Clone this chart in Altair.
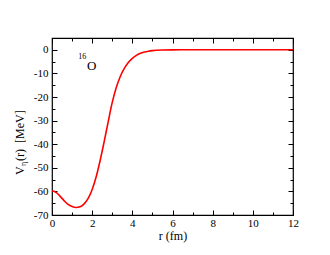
import altair as alt
import pandas as pd

r_vals = [0, 0.2, 0.4, 0.6, 0.8, 1.0, 1.2, 1.4, 1.6, 1.8, 2.0, 2.2, 2.4, 2.6, 2.8, 3.0,
          3.2, 3.4, 3.6, 3.8, 4.0, 4.2, 4.4, 4.6, 4.8, 5.0, 5.5, 6.0, 7.0, 8.0, 9.0,
          10.0, 11.0, 12.0]
v_vals = [-59.7, -60.4, -62.0, -63.9, -65.5, -66.4, -66.8, -66.5, -65.3, -63.0, -59.2,
          -53.8, -46.8, -38.8, -30.4, -22.3, -16.0, -11.3, -7.9, -5.4, -3.6, -2.35, -1.5,
          -0.95, -0.58, -0.35, -0.1, -0.03, 0, 0, 0, 0, 0, 0]

x_major = [0, 2, 4, 6, 8, 10, 12]
x_minor = [1, 3, 5, 7, 9, 11]
y_major = [0, -10, -20, -30, -40, -50, -60, -70]
y_minor = [5, -5, -15, -25, -35, -45, -55, -65]

df = pd.DataFrame({"r": r_vals, "v": v_vals})

FONT = "Liberation Serif"
W, H = 241, 177
MAJ, MIN = 5, 3
LBL = "'' + datum.value"

xs = alt.Scale(domain=[0, 12], nice=False, zero=False)
ys = alt.Scale(domain=[-70, 5], nice=False, zero=False)


def axis_layer(xorient, yorient, xvals, yvals, tsize):
    xa = dict(orient=xorient, values=xvals, tickSize=tsize, offset=-tsize, domain=False,
              grid=False, labels=False, tickColor="black", tickWidth=1, title="")
    ya = dict(orient=yorient, values=yvals, tickSize=tsize, offset=-tsize, domain=False,
              grid=False, labels=False, tickColor="black", tickWidth=1, title="")
    return alt.Chart(df).mark_line(opacity=0).encode(
        x=alt.X("r:Q", scale=xs, axis=alt.Axis(**xa)),
        y=alt.Y("v:Q", scale=ys, axis=alt.Axis(**ya)),
    )


line = alt.Chart(df).mark_line(color="#ff0000", strokeWidth=1.6, interpolate="monotone").encode(
    x=alt.X("r:Q", scale=xs, axis=alt.Axis(orient="bottom", values=x_major, tickSize=MAJ,
                                          offset=-MAJ, domain=False, grid=False,
                                          labelFont=FONT, labelFontSize=11, labelColor="black",
                                          labelPadding=2, labelFlush=False, tickColor="black",
                                          labelExpr=LBL,
                                          title="r (fm)", titleFont=FONT, titleFontSize=12,
                                          titleFontWeight="normal", titleColor="black",
                                          titlePadding=2)),
    y=alt.Y("v:Q", scale=ys, axis=alt.Axis(orient="left", values=y_major, tickSize=MAJ,
                                          offset=-MAJ, domain=False, grid=False,
                                          labelFont=FONT, labelFontSize=11, labelColor="black",
                                          labelPadding=4, tickColor="black", labelExpr=LBL,
                                          title="")),
)

layers = [
    line,
    axis_layer("top", "right", x_major, y_major, MAJ),
    axis_layer("bottom", "left", x_minor, y_minor, MIN),
    axis_layer("top", "right", x_minor, y_minor, MIN),
]

# isotope label
lab_txt = ["16", "O"]
lab_r = [1.5, 1.98]
lab_v = [-3.0, -6.8]
lab_size = [8, 13]
lab_df = pd.DataFrame({"t": lab_txt, "r": lab_r, "v": lab_v, "s": lab_size})
lab = alt.Chart(lab_df).mark_text(font=FONT, color="black", baseline="middle", align="center").encode(
    x=alt.X("r:Q", scale=xs, axis=None),
    y=alt.Y("v:Q", scale=ys, axis=None),
    text="t:N",
    size=alt.Size("s:Q", scale=None, legend=None),
)

# y-axis title with subscript
ytitle_parts = ["V", "\u03b7", "(r)\u00a0\u00a0[MeV]"]
t1 = alt.Chart(pd.DataFrame({"t": [ytitle_parts[0]]})).mark_text(
    font=FONT, fontSize=12, angle=270, align="left", baseline="middle", color="black"
).encode(text="t:N", x=alt.value(-32), y=alt.value(137))
t2 = alt.Chart(pd.DataFrame({"t": [ytitle_parts[1]]})).mark_text(
    font=FONT, fontSize=8, angle=270, align="left", baseline="middle", color="black"
).encode(text="t:N", x=alt.value(-28), y=alt.value(128))
t3 = alt.Chart(pd.DataFrame({"t": [ytitle_parts[2]]})).mark_text(
    font=FONT, fontSize=12, angle=270, align="left", baseline="middle", color="black"
).encode(text="t:N", x=alt.value(-32), y=alt.value(123))

chart = alt.layer(*layers, lab, t1, t2, t3).resolve_axis(
    x="independent", y="independent"
).properties(
    width=W, height=H,
    padding={"left": 44, "top": 30, "right": 29, "bottom": 32},
    autosize=alt.AutoSizeParams(type="none"),
).configure_view(stroke="black", strokeWidth=1.2)

chart.save("out.html", embed_options={"renderer": "svg", "actions": False})
